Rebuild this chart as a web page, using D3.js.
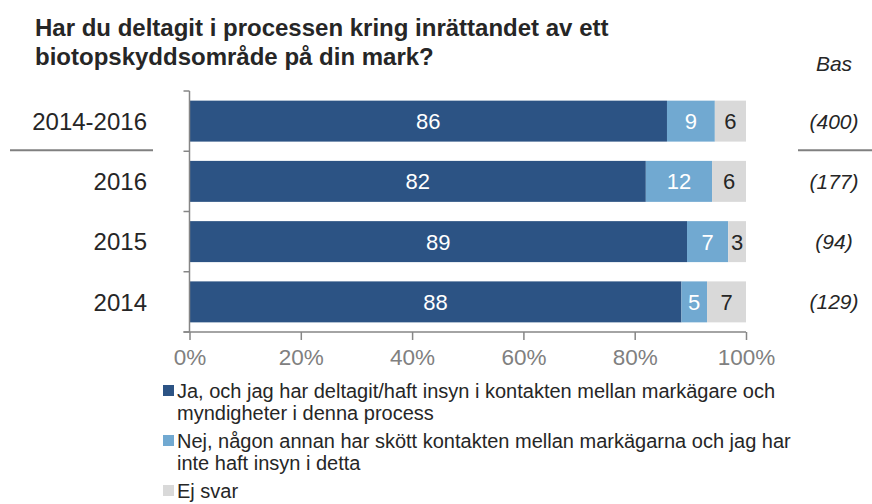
<!DOCTYPE html>
<html>
<head>
<meta charset="utf-8">
<script src="https://cdn.jsdelivr.net/npm/d3@7"></script>
<style>
	body { margin: 0; background: #fff; }
	svg { display: block; font-family: "Liberation Sans", Arial, sans-serif; }
</style>
</head>
<body>
<div id="chart"></div>
<script>
// data
const categories = ["2014-2016", "2016", "2015", "2014"];
const bases = ["(400)", "(177)", "(94)", "(129)"];
const seriesNames = ["ja", "nej", "ejsvar"];
const jaValues = [85.8, 82.0, 89.4, 88.4];
const nejValues = [8.6, 11.9, 7.4, 4.6];
const ejSvarValues = [5.6, 6.1, 3.2, 7.0];
const valueLabels = [
	[86, 9, 6],
	[82, 12, 6],
	[89, 7, 3],
	[88, 5, 7],
];
const xTicks = [0, 20, 40, 60, 80, 100];
const legendItems = [
	["Ja, och jag har deltagit/haft insyn i kontakten mellan markägare och", "myndigheter i denna process"],
	["Nej, någon annan har skött kontakten mellan markägarna och jag har", "inte haft insyn i detta"],
	["Ej svar"],
];

const colors = ["#2c5384", "#71a9d1", "#d9d9d9"];
const labelColors = ["#ffffff", "#ffffff", "#262626"];

const width = 872, height = 504;

const svg = d3.select("#chart")
	.append("svg")
	.attr("width", width)
	.attr("height", height);

// title
const title = svg.append("text")
	.attr("x", 35)
	.attr("font-weight", "bold")
	.attr("font-size", "24px")
	.attr("fill", "#262626");
title.append("tspan").attr("x", 35).attr("y", 36).text("Har du deltagit i processen kring inrättandet av ett");
title.append("tspan").attr("x", 35).attr("y", 65).text("biotopskyddsområde på din mark?");

svg.append("text")
	.attr("x", 834)
	.attr("y", 71)
	.attr("text-anchor", "middle")
	.attr("font-style", "italic")
	.attr("font-size", "21px")
	.attr("fill", "#262626")
	.text("Bas");

const rows = categories.map((c, i) => ({
	cat: c,
	ja: jaValues[i],
	nej: nejValues[i],
	ejsvar: ejSvarValues[i],
	idx: i,
}));

const x = d3.scaleLinear().domain([0, 100]).range([189.5, 746]);
const y = d3.scaleBand()
	.domain(categories)
	.range([91, 332])
	.paddingInner(0.32)
	.paddingOuter(0.16);

const stacked = d3.stack().keys(seriesNames)(rows);

const layer = svg.append("g")
	.selectAll("g")
	.data(stacked)
	.join("g")
	.attr("fill", (d, i) => colors[i]);

layer.selectAll("rect")
	.data((d) => d)
	.join("rect")
	.attr("x", (d) => x(d[0]))
	.attr("y", (d) => y(d.data.cat))
	.attr("width", (d) => x(d[1]) - x(d[0]))
	.attr("height", y.bandwidth());

// value labels
stacked.forEach((s, si) => {
	svg.append("g")
		.selectAll("text")
		.data(s)
		.join("text")
		.attr("x", (d) => (x(d[0]) + x(d[1])) / 2)
		.attr("y", (d) => y(d.data.cat) + y.bandwidth() / 2)
		.attr("dy", "0.36em")
		.attr("text-anchor", "middle")
		.attr("font-size", "22px")
		.attr("fill", labelColors[si])
		.text((d) => valueLabels[d.data.idx][si]);
});

// y axis: line with ticks between bands
const yAxisG = svg.append("g");
yAxisG.append("line")
	.attr("x1", x(0)).attr("x2", x(0))
	.attr("y1", y.range()[0]).attr("y2", y.range()[1])
	.attr("stroke", "#868686")
	.attr("stroke-width", 1.5);
const yBounds = categories.map((c) => y(c) - y.step() * y.paddingInner() / 2).concat([y.range()[1]]);
yAxisG.selectAll("line.tick")
	.data(yBounds)
	.join("line")
	.attr("class", "tick")
	.attr("x1", x(0) - 6).attr("x2", x(0))
	.attr("y1", (d) => d).attr("y2", (d) => d)
	.attr("stroke", "#868686")
	.attr("stroke-width", 1.5);

// category labels
svg.append("g")
	.selectAll("text")
	.data(categories)
	.join("text")
	.attr("x", 147)
	.attr("y", (d) => y(d) + y.bandwidth() / 2)
	.attr("dy", "0.36em")
	.attr("text-anchor", "end")
	.attr("font-size", "24px")
	.attr("fill", "#262626")
	.text((d) => d);

// bas labels
svg.append("g")
	.selectAll("text")
	.data(bases)
	.join("text")
	.attr("x", 834)
	.attr("y", (d, i) => y(categories[i]) + y.bandwidth() / 2)
	.attr("dy", "0.36em")
	.attr("text-anchor", "middle")
	.attr("font-style", "italic")
	.attr("font-size", "21px")
	.attr("fill", "#262626")
	.text((d) => d);

// separator lines under the total row
const sepY = y.step() + y.range()[0] - 1;
svg.append("line")
	.attr("x1", 10).attr("x2", 153)
	.attr("y1", sepY).attr("y2", sepY)
	.attr("stroke", "#808080").attr("stroke-width", 2);
svg.append("line")
	.attr("x1", 798).attr("x2", 872)
	.attr("y1", sepY).attr("y2", sepY)
	.attr("stroke", "#808080").attr("stroke-width", 2);

// x axis
const xAxis = d3.axisBottom(x)
	.tickValues(xTicks)
	.tickFormat((d) => d + "%")
	.tickSize(8)
	.tickPadding(9);

const xAxisG = svg.append("g")
	.attr("transform", `translate(0,${y.range()[1]})`)
	.call(xAxis);
xAxisG.select(".domain")
	.attr("stroke", "#868686")
	.attr("stroke-width", 1.5)
	.attr("d", `M${x(0) - 6},0H${x(100)}`);
xAxisG.selectAll(".tick line").attr("stroke", "#868686").attr("stroke-width", 1.5);
xAxisG.selectAll(".tick text")
	.attr("font-family", "Liberation Sans, Arial, sans-serif")
	.attr("font-size", "22.5px")
	.attr("fill", "#808080");

// legend
const legendTop = [391, 441, 491];
const legend = svg.append("g");
legendItems.forEach((lines, i) => {
	legend.append("rect")
		.attr("x", 163)
		.attr("y", legendTop[i] - 6)
		.attr("width", 11)
		.attr("height", 11)
		.attr("fill", colors[i]);
	const t = legend.append("text")
		.attr("font-size", "20px")
		.attr("fill", "#262626");
	lines.forEach((ln, j) => {
		t.append("tspan")
			.attr("x", 177)
			.attr("y", legendTop[i] + j * 22)
			.attr("dy", "0.36em")
			.text(ln);
	});
});
</script>
</body>
</html>
